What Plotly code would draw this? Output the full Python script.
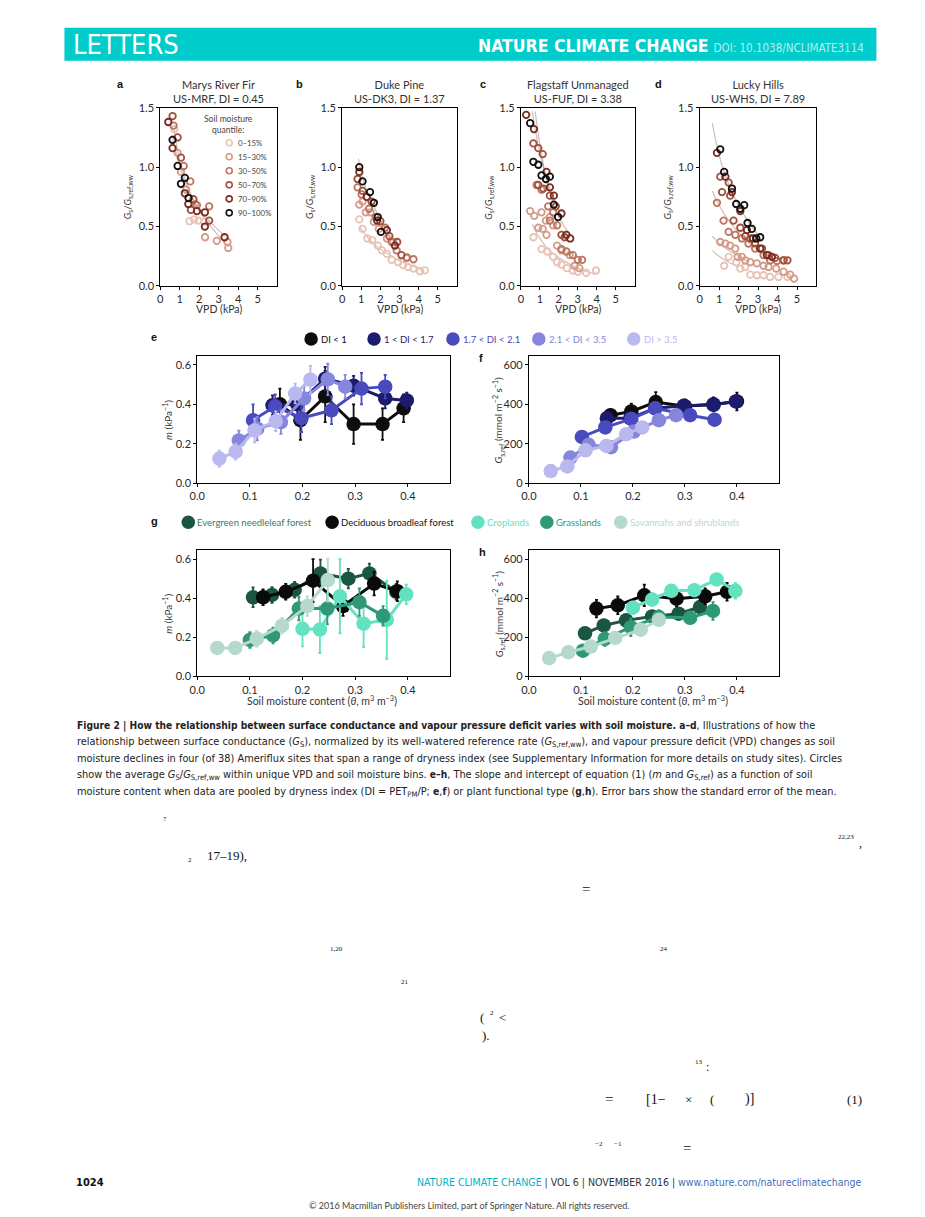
import plotly.graph_objects as go

# ---------------- DATA ----------------
# Panels a-d: VPD (kPa) and Gs/Gs,ref,ww per soil-moisture quantile
quantile_labels = ["0–15%", "15–30%", "30–50%", "50–70%", "70–90%", "90–100%"]

a_vpd = [[0.72, 1.5, 1.74, 1.95, 2.26],
         [0.89, 1.06, 1.33, 1.79, 2.3, 2.9, 3.45, 3.49],
         [0.68, 1.2, 1.54, 1.88, 2.51],
         [0.63, 0.89, 1.06, 1.7, 1.57, 2.51],
         [0.41, 0.63, 1.26, 1.44, 1.88, 2.29, 2.29, 3.3],
         [0.63, 0.89, 1.06, 1.26, 1.45]]
a_g = [[1.32, 0.545, 0.56, 0.55, 0.54],
       [1.12, 0.96, 0.81, 0.69, 0.41, 0.38, 0.37, 0.32],
       [1.35, 1.01, 0.88, 0.68, 0.67],
       [1.43, 1.25, 1.08, 0.73, 0.64, 0.55],
       [1.38, 1.16, 0.78, 0.69, 0.63, 0.62, 0.5, 0.41],
       [1.23, 1.01, 0.86, 0.91, 0.74]]

b_vpd = [[0.9, 1.07, 1.32, 1.58, 1.86, 2.08, 2.34, 2.59, 2.93, 3.19, 3.44, 3.73, 4.07, 4.32],
         [0.9, 1.07, 1.24, 1.49, 1.66, 1.92, 2.34, 2.68, 3.36],
         [0.81, 1.02, 1.41, 1.75, 2.25, 2.59, 2.85, 3.39, 3.73],
         [0.81, 1.07, 1.54, 2.0, 2.47, 2.88, 3.1],
         [0.9, 1.29, 1.83, 2.34, 2.76],
         [0.9, 1.07, 1.46, 1.66, 1.86, 2.03]]
b_g = [[0.56, 0.48, 0.4, 0.385, 0.34, 0.3, 0.27, 0.22, 0.2, 0.175, 0.16, 0.146, 0.124, 0.132],
       [0.685, 0.71, 0.62, 0.62, 0.54, 0.48, 0.4, 0.37, 0.235],
       [0.83, 0.77, 0.65, 0.58, 0.49, 0.37, 0.3, 0.24, 0.225],
       [0.9, 0.8, 0.71, 0.545, 0.42, 0.37, 0.26],
       [0.96, 0.75, 0.55, 0.47, 0.34],
       [1.0, 0.88, 0.79, 0.7, 0.58, 0.455]]

c_vpd = [[0.66, 1.09, 1.39, 1.7, 1.91, 2.14, 2.43, 2.74, 3.0, 3.44, 3.96],
         [0.49, 0.71, 1.09, 1.32, 1.53, 1.15, 0.92, 1.35, 1.7, 1.91, 2.14, 2.57, 2.83, 3.09],
         [0.83, 1.09, 1.44, 1.7, 1.91, 1.53, 2.14, 2.4, 2.74, 3.0, 3.23],
         [0.66, 0.92, 1.15, 0.92, 1.18, 1.53, 1.84, 2.14, 2.31],
         [0.28, 0.69, 1.35, 1.53, 1.74, 2.14, 2.4, 2.6],
         [0.49, 0.66, 0.92, 1.09, 1.32, 1.53, 1.74, 1.96]]
c_g = [[0.41, 0.31, 0.29, 0.245, 0.2, 0.18, 0.15, 0.13, 0.12, 0.11, 0.13],
       [0.63, 0.59, 0.62, 0.55, 0.58, 0.48, 0.49, 0.43, 0.51, 0.34, 0.3, 0.26, 0.17, 0.15],
       [0.85, 0.81, 0.67, 0.62, 0.51, 0.55, 0.31, 0.29, 0.26, 0.22, 0.22],
       [1.2, 1.16, 1.11, 0.85, 0.82, 0.76, 0.67, 0.43, 0.41],
       [1.44, 1.32, 0.96, 0.83, 0.76, 0.61, 0.43, 0.4],
       [1.37, 1.045, 1.02, 0.93, 0.9, 0.92, 0.685, 0.58]]

d_vpd = [[1.26, 1.49, 1.88, 2.09, 2.34, 2.6, 2.94, 3.28, 3.62, 4.05, 4.51],
         [1.06, 1.32, 1.57, 1.83, 1.95, 2.17, 2.34, 2.6, 2.94, 3.28, 3.54, 3.93, 4.31, 4.65, 4.85],
         [0.89, 1.23, 1.49, 1.83, 2.17, 2.51, 2.85, 3.28, 3.62, 3.97, 4.31],
         [1.06, 1.49, 1.15, 1.57, 1.74, 2.09, 2.34, 2.6, 2.85, 3.2, 3.54, 3.88, 4.31, 4.51],
         [0.89, 1.32, 1.66, 2.09, 2.43, 2.74, 3.11, 3.45, 3.71],
         [1.06, 1.26, 1.66, 1.88, 2.09, 2.29, 2.46, 2.68, 2.91, 3.11]]
d_g = [[0.17, 0.245, 0.2, 0.146, 0.16, 0.095, 0.09, 0.09, 0.076, 0.076, 0.076],
       [0.37, 0.357, 0.34, 0.315, 0.245, 0.245, 0.216, 0.2, 0.19, 0.17, 0.16, 0.146, 0.12, 0.095, 0.062],
       [0.7, 0.55, 0.455, 0.43, 0.4, 0.357, 0.315, 0.26, 0.216, 0.21, 0.216],
       [0.92, 0.87, 0.79, 0.76, 0.55, 0.49, 0.42, 0.4, 0.36, 0.315, 0.26, 0.236, 0.216, 0.216],
       [1.12, 0.92, 0.79, 0.63, 0.47, 0.4, 0.315, 0.26, 0.245],
       [1.15, 0.96, 0.82, 0.69, 0.65, 0.68, 0.53, 0.48, 0.4, 0.41]]

# faint fitted curves
a_curve_x = [[0.6, 1.0, 1.5, 2.0, 2.5, 3.3], [0.7, 1.0, 1.5, 2.0, 2.5, 3.0, 3.5]]
a_curve_y = [[1.27, 1.0, 0.78, 0.64, 0.55, 0.42], [1.33, 1.05, 0.8, 0.63, 0.52, 0.42, 0.33]]
b_curve_x = [[0.85, 1.2, 1.6, 2.0, 2.4, 2.7], [0.9, 1.5, 2.0, 2.5, 3.0, 3.5, 4.0, 4.3]]
b_curve_y = [[1.07, 0.84, 0.69, 0.56, 0.45, 0.37], [0.5, 0.38, 0.31, 0.26, 0.21, 0.18, 0.15, 0.13]]
c_curve_x = [[0.6, 1.0, 1.4, 1.8, 2.2], [0.75, 1.1, 1.5, 2.0, 2.6], [0.6, 1.0, 1.5, 2.0, 2.5, 3.0, 3.5, 3.9]]
c_curve_y = [[1.47, 1.12, 0.88, 0.7, 0.57], [1.47, 1.1, 0.8, 0.58, 0.43], [0.52, 0.4, 0.3, 0.24, 0.19, 0.15, 0.12, 0.1]]
d_curve_x = [[0.65, 1.0, 1.5, 2.0, 2.5, 3.0], [0.65, 1.0, 1.5, 2.0, 2.5, 3.0, 3.5],
             [0.65, 1.0, 1.5, 2.0, 2.5], [0.65, 1.0, 1.5, 2.0]]
d_curve_y = [[1.37, 1.1, 0.85, 0.68, 0.54, 0.43], [0.8, 0.68, 0.55, 0.45, 0.37, 0.3, 0.25],
             [0.42, 0.36, 0.3, 0.25, 0.2], [0.3, 0.25, 0.2, 0.16]]

# Panels e,f: pooled by dryness index
di_labels = ["DI &lt; 1", "1 &lt; DI &lt; 1.7", "1.7 &lt; DI &lt; 2.1", "2.1 &lt; DI &lt; 3.5", "DI &gt; 3.5"]
e_theta = [[0.157, 0.196, 0.243, 0.297, 0.352, 0.392],
           [0.143, 0.19, 0.243, 0.297, 0.357, 0.398],
           [0.106, 0.148, 0.198, 0.255, 0.312, 0.357],
           [0.079, 0.114, 0.159, 0.203, 0.248, 0.281],
           [0.042, 0.073, 0.109, 0.149, 0.186, 0.215]]
e_m = [[0.40, 0.32, 0.44, 0.30, 0.30, 0.38],
       [0.395, 0.40, 0.53, 0.495, 0.43, 0.42],
       [0.32, 0.39, 0.33, 0.37, 0.48, 0.49],
       [0.217, 0.277, 0.31, 0.43, 0.527, 0.49],
       [0.125, 0.16, 0.268, 0.315, 0.455, 0.525]]
e_err = [[0.08, 0.10, 0.13, 0.10, 0.08, 0.07],
         [0.05, 0.05, 0.06, 0.05, 0.05, 0.04],
         [0.08, 0.06, 0.07, 0.07, 0.08, 0.06],
         [0.05, 0.06, 0.06, 0.06, 0.08, 0.06],
         [0.04, 0.04, 0.06, 0.05, 0.05, 0.07]]
f_theta = [[0.157, 0.197, 0.244, 0.30, 0.355, 0.40],
           [0.15, 0.195, 0.243, 0.298, 0.355, 0.398],
           [0.102, 0.147, 0.197, 0.243, 0.31, 0.357],
           [0.08, 0.115, 0.158, 0.202, 0.25, 0.283],
           [0.042, 0.074, 0.109, 0.149, 0.187, 0.218]]
f_gsref = [[345, 364, 412, 390, 400, 415],
           [330, 330, 380, 393, 398, 415],
           [235, 283, 326, 380, 345, 322],
           [130, 195, 183, 262, 320, 345],
           [62, 85, 167, 189, 249, 283]]
f_err = [[30, 40, 50, 35, 35, 45],
         [20, 20, 25, 25, 25, 30],
         [30, 25, 25, 25, 30, 30],
         [20, 20, 20, 25, 25, 25],
         [15, 15, 20, 20, 25, 25]]

# Panels g,h: pooled by plant functional type
pft_labels = ["Evergreen needleleaf forest", "Deciduous broadleaf forest", "Croplands",
              "Grasslands", "Savannahs and shrublands"]
g_theta = [[0.106, 0.142, 0.185, 0.234, 0.287, 0.327, 0.378],
           [0.125, 0.168, 0.22, 0.277, 0.336, 0.38],
           [0.2, 0.233, 0.271, 0.316, 0.36, 0.397],
           [0.1, 0.144, 0.193, 0.247, 0.308, 0.353],
           [0.038, 0.072, 0.113, 0.161, 0.209, 0.248]]
g_m = [[0.405, 0.417, 0.443, 0.527, 0.50, 0.527, 0.433],
       [0.405, 0.433, 0.49, 0.36, 0.475, 0.436],
       [0.244, 0.24, 0.41, 0.27, 0.29, 0.42],
       [0.187, 0.21, 0.347, 0.347, 0.38, 0.31],
       [0.146, 0.146, 0.193, 0.26, 0.36, 0.493]]
g_err = [[0.05, 0.04, 0.04, 0.07, 0.05, 0.05, 0.04],
         [0.04, 0.04, 0.11, 0.05, 0.06, 0.05],
         [0.09, 0.12, 0.19, 0.12, 0.20, 0.05],
         [0.04, 0.04, 0.06, 0.08, 0.07, 0.05],
         [0.03, 0.03, 0.04, 0.04, 0.05, 0.11]]
h_theta = [[0.108, 0.144, 0.187, 0.237, 0.288, 0.329],
           [0.13, 0.171, 0.222, 0.284, 0.339, 0.381],
           [0.2, 0.237, 0.274, 0.318, 0.361, 0.397],
           [0.104, 0.146, 0.196, 0.25, 0.31, 0.354],
           [0.039, 0.076, 0.119, 0.166, 0.215, 0.25]]
h_gsref = [[221, 261, 287, 307, 321, 355],
           [347, 364, 415, 398, 410, 433],
           [352, 393, 438, 441, 496, 438],
           [132, 192, 252, 304, 300, 335],
           [94, 124, 153, 197, 239, 290]]
h_err = [[20, 25, 25, 25, 25, 30],
         [45, 45, 55, 40, 40, 45],
         [30, 30, 30, 30, 30, 40],
         [30, 35, 45, 35, 30, 45],
         [15, 15, 20, 20, 25, 30]]

# ---------------- STYLE ----------------
q_colors = ["#e8c3b5", "#d39b88", "#bd7460", "#a0503c", "#7a2c1e", "#111111"]
di_colors = ["#0d0d0d", "#1c1c6e", "#4a4abf", "#8686dc", "#b9b9f0"]
pft_colors = ["#1b5641", "#0a0a0a", "#62e2c0", "#2f9877", "#b5d9cd"]
pft_text_colors = ["#3a7a64", "#111111", "#62e2c0", "#2f9877", "#b5d9cd"]

W, H = 925, 1217
FONT = "Lato, Open Sans, sans-serif"
CAPFONT = "Liberation Sans Narrow, DejaVu Sans Condensed, Lato, sans-serif"
SERIF = "Liberation Serif, DejaVu Serif, serif"


def fx(X):
    return ((X - 6.5) / 0.9926) / W


def fy(Y):
    return 1 - ((Y - 7.4) / 0.988) / H


fig = go.Figure()
annotations = []
shapes = []


def ann(X, Y, text, size=10, color="#333", xanchor="center", yanchor="middle", family=FONT, angle=0):
    annotations.append(dict(x=fx(X), y=fy(Y), xref="paper", yref="paper", text=text, showarrow=False,
                            font=dict(size=size, color=color, family=family), xanchor=xanchor,
                            yanchor=yanchor, textangle=angle, borderpad=0))


def dot(X, Y, d, color, filled=True, lw=1.5):
    shapes.append(dict(type="circle", xref="paper", yref="paper", xsizemode="pixel", ysizemode="pixel",
                       xanchor=fx(X), yanchor=fy(Y), x0=-d / 2, x1=d / 2, y0=-d / 2, y1=d / 2,
                       fillcolor=color if filled else "rgba(0,0,0,0)",
                       line=dict(color=color, width=0 if filled else lw)))


# panel boxes (pixel positions in page)
boxes = {
    1: (159, 276, 108, 286), 2: (341, 456, 108, 286), 3: (520, 634, 108, 286), 4: (699, 816, 108, 286),
    5: (196, 449, 356, 483), 6: (528, 778, 356, 483), 7: (196, 449, 550, 676), 8: (528, 778, 550, 676),
}

layout_axes = {}
for n, (L, R, T, B) in boxes.items():
    xs = "" if n == 1 else str(n)
    common = dict(showline=True, linecolor="black", linewidth=1, mirror=True, ticks="outside", ticklen=3,
                  tickcolor="black", tickwidth=1, showgrid=False, zeroline=False,
                  tickfont=dict(size=11, color="#2a2a2a", family=FONT))
    if n <= 4:
        xa = dict(range=[0, 6], tickvals=[0, 1, 2, 3, 4, 5], ticktext=["0", "1", "2", "3", "4", "5"])
        ya = dict(range=[0, 1.5], tickvals=[0, 0.5, 1.0, 1.5], ticktext=["0.0", "0.5", "1.0", "1.5"])
    else:
        xa = dict(range=[0, 0.48], tickvals=[0, 0.1, 0.2, 0.3, 0.4], ticktext=["0.0", "0.1", "0.2", "0.3", "0.4"])
        if n in (5, 7):
            ya = dict(range=[0, 0.645], tickvals=[0, 0.2, 0.4, 0.6], ticktext=["0.0", "0.2", "0.4", "0.6"])
        else:
            ya = dict(range=[0, 645], tickvals=[0, 200, 400, 600], ticktext=["0", "200", "400", "600"])
    layout_axes["xaxis" + xs] = dict(domain=[fx(L), fx(R)], anchor="y" + xs, **xa, **common)
    layout_axes["yaxis" + xs] = dict(domain=[fy(B), fy(T)], anchor="x" + xs, **ya, **common)

# ---- panels a-d ----
site_data = [(a_vpd, a_g, a_curve_x, a_curve_y), (b_vpd, b_g, b_curve_x, b_curve_y),
             (c_vpd, c_g, c_curve_x, c_curve_y), (d_vpd, d_g, d_curve_x, d_curve_y)]
for i, (vx, vy, cx, cy) in enumerate(site_data):
    n = i + 1
    xs = "" if n == 1 else str(n)
    for k in range(len(cx)):
        fig.add_trace(go.Scatter(x=cx[k], y=cy[k], mode="lines", xaxis="x" + xs, yaxis="y" + xs,
                                 line=dict(color="rgba(120,70,60,0.35)", width=1.2, shape="spline"),
                                 showlegend=False, hoverinfo="skip"))
    for q in range(6):
        fig.add_trace(go.Scatter(x=vx[q], y=vy[q], mode="markers", xaxis="x" + xs, yaxis="y" + xs,
                                 name=quantile_labels[q], showlegend=False,
                                 marker=dict(symbol="circle-open", size=6.5, color=q_colors[q],
                                             line=dict(width=1.8, color=q_colors[q]))))


def add_series(xl, yl, el, colors, axn):
    xs = "" if axn == 1 else str(axn)
    for k in range(len(xl)):
        fig.add_trace(go.Scatter(x=xl[k], y=yl[k], mode="lines+markers", xaxis="x" + xs, yaxis="y" + xs,
                                 showlegend=False, line=dict(color=colors[k], width=3),
                                 marker=dict(size=14.5, color=colors[k]),
                                 error_y=dict(type="data", array=el[k], color=colors[k], thickness=1.8, width=1.5)))


add_series(e_theta, e_m, e_err, di_colors, 5)
add_series(f_theta, f_gsref, f_err, di_colors, 6)
add_series(g_theta, g_m, g_err, pft_colors, 7)
add_series(h_theta, h_gsref, h_err, pft_colors, 8)

# ---------------- TEXT ----------------
# header bar
shapes.append(dict(type="rect", xref="paper", yref="paper", x0=fx(63), x1=fx(876), y0=fy(61), y1=fy(28),
                   fillcolor="#00cccc", line=dict(width=0), layer="below"))
ann(71, 45, "LETTERS", size=27, color="white", xanchor="left", family=CAPFONT)
ann(865, 46, "<b>NATURE CLIMATE CHANGE</b> <span style='font-size:11.5px;color:#b8ecec'>DOI: 10.1038/NCLIMATE3114</span>",
    size=17.5, color="white", xanchor="right", family=CAPFONT)

# panel titles and letters
titles = ["Marys River Fir<br>US-MRF, DI = 0.45", "Duke Pine<br>US-DK3, DI = 1.37",
          "Flagstaff Unmanaged<br>US-FUF, DI = 3.38", "Lucky Hills<br>US-WHS, DI = 7.89"]
for i, t in enumerate(titles):
    L, R, T, B = boxes[i + 1]
    ann((L + R) / 2, 92, t, size=11, color="#333")
    ann((L + R) / 2, 309, "VPD (kPa)", size=10.5, color="#333")
    ann(L - 31, (T + B) / 2, "<i>G</i><sub>s</sub>/<i>G</i><sub>s,ref,ww</sub>", size=9.5, color="#333", angle=-90)
for lx, ly, lt in [(119, 84, "a"), (298, 84, "b"), (482, 84, "c"), (658, 84, "d"),
                   (153, 337, "e"), (480, 358, "f"), (153, 521, "g"), (482, 552, "h")]:
    ann(lx, ly, "<b>%s</b>" % lt, size=11, color="#111", family="Liberation Sans, Arial, sans-serif")

# quantile legend in panel a
ann(227, 125, "Soil moisture<br>quantile:", size=8.5, color="#444")
for q in range(6):
    yy = 143 + 14 * q
    dot(228, yy, 6, q_colors[q], filled=False, lw=1.6)
    ann(236, yy, quantile_labels[q], size=7.8, color="#444", xanchor="left")

# e/f and g/h axis titles
for (L, R, T, B), txt in [(boxes[5], "<i>m</i> (kPa<sup>−1</sup>)"),
                          (boxes[6], "<i>G</i><sub>s,ref</sub> (mmol m<sup>−2</sup> s<sup>−1</sup>)"),
                          (boxes[7], "<i>m</i> (kPa<sup>−1</sup>)"),
                          (boxes[8], "<i>G</i><sub>s,ref</sub> (mmol m<sup>−2</sup> s<sup>−1</sup>)")]:
    ann(L - 30, (T + B) / 2, txt, size=10, color="#333", angle=-90)
ann(321, 700, "Soil moisture content (<i>θ</i>, m<sup>3</sup> m<sup>−3</sup>)", size=10.5, color="#333")
ann(652, 700, "Soil moisture content (<i>θ</i>, m<sup>3</sup> m<sup>−3</sup>)", size=10.5, color="#333")

# DI legend
for X, lab, col in zip([310, 373, 452, 538, 633], di_labels, di_colors):
    dot(X, 339, 13.5, col)
    ann(X + 9, 339, lab, size=9.5, color=col, xanchor="left")
# PFT legend
for X, lab, col, tcol in zip([187, 331, 477, 546, 620], pft_labels, pft_colors, pft_text_colors):
    dot(X, 522, 13.5, col)
    ann(X + 8, 522, lab, size=9.5, color=tcol, xanchor="left")

# caption
B0 = "<span style='font-size:10.2px'><b>"
B1 = "</b></span>"
cap = [
    B0 + "Figure 2 | How the relationship between surface conductance and vapour pressure deficit varies with soil moisture. a–d" + B1 + ", Illustrations of how the",
    "relationship between surface conductance (<i>G</i><sub>S</sub>), normalized by its well-watered reference rate (<i>G</i><sub>S,ref,ww</sub>), and vapour pressure deficit (VPD) changes as soil",
    "moisture declines in four (of 38) Ameriflux sites that span a range of dryness index (see Supplementary Information for more details on study sites). Circles",
    "show the average <i>G</i><sub>S</sub>/<i>G</i><sub>S,ref,ww</sub> within unique VPD and soil moisture bins. " + B0 + "e–h" + B1 + ", The slope and intercept of equation (1) (<i>m</i> and <i>G</i><sub>S,ref</sub>) as a function of soil",
    "moisture content when data are pooled by dryness index (DI = PET<sub>PM</sub>/P; " + B0 + "e" + B1 + "," + B0 + "f" + B1 + ") or plant functional type (" + B0 + "g" + B1 + "," + B0 + "h" + B1 + "). Error bars show the standard error of the mean.",
]
for i, line in enumerate(cap):
    ann(75, 725 + 16.5 * i, line, size=10.9, color="#222", xanchor="left", family=CAPFONT)

# body text fragments
frag = [(164, 818, "7", 7), (846, 836, "22,23", 7), (860, 842, ",", 12), (189, 859, "2", 7),
        (226, 855, "17–19),", 13), (585, 888, "=", 15), (335, 948, "1,20", 7), (663, 948, "24", 7),
        (404, 981, "21", 7), (481, 1017, "(", 13), (491, 1012, "2", 7), (502, 1017, "&lt;", 13),
        (485, 1035, ").", 13), (698, 1061, "13", 7), (707, 1066, ":", 12),
        (608, 1098, "=", 15), (655, 1098, "[1−", 14), (688, 1098, "×", 13), (711, 1098, "(", 13),
        (749, 1098, ")]", 14), (854, 1098, "(1)", 13), (598, 1143, "−2", 7), (617, 1143, "−1", 7),
        (686, 1147, "=", 15)]
for X, Y, t, s in frag:
    ann(X, Y, t, size=s, color="#111", family=SERIF)

# footer
ann(74, 1181, "<b>1024</b>", size=11, color="#111", xanchor="left", family=CAPFONT)
ann(862, 1181, "<span style='color:#00b3c6'>NATURE CLIMATE CHANGE</span> | VOL 6 | NOVEMBER 2016 | "
               "<span style='color:#3f6fb5'>www.nature.com/natureclimatechange</span>",
    size=10.5, color="#333", xanchor="right", family=CAPFONT)
ann(468, 1204, "© 2016 Macmillan Publishers Limited, part of Springer Nature. All rights reserved.",
    size=9, color="#444", family=FONT)

fig.update_layout(width=W, height=H, margin=dict(l=0, r=0, t=0, b=0), paper_bgcolor="white",
                  plot_bgcolor="white", showlegend=False, annotations=annotations, shapes=shapes,
                  font=dict(family=FONT), **layout_axes)
fig.write_html("out.html", config={"displayModeBar": False},
               post_script="document.body.style.margin='0px';")
